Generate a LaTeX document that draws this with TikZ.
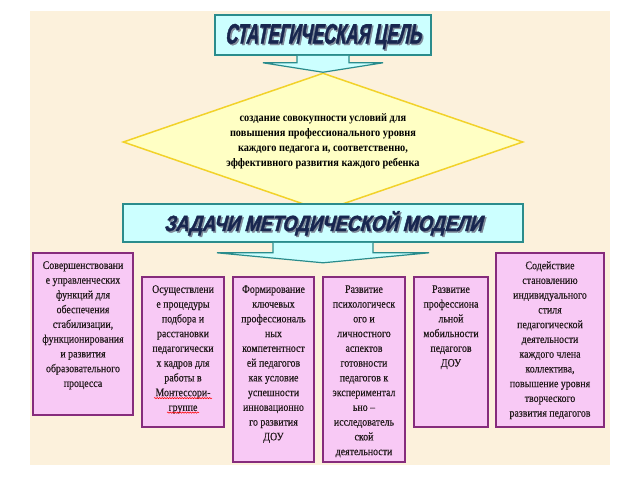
\documentclass[tikz,border=0pt]{standalone}
\usepackage{fontspec}
\usepackage{graphicx}
\setmainfont{Liberation Serif}
\newfontfamily\boxfont[FakeStretch=0.86,FakeBold=0.4]{Liberation Serif}
\newfontfamily\goalfont[FakeStretch=0.9]{Liberation Serif}
\newfontfamily\headfont[FakeStretch=0.62,FakeSlant=0.2,FakeBold=1.5]{Liberation Sans}
\usetikzlibrary{shapes.geometric,decorations.pathmorphing,calc,shadows}
\definecolor{bgcol}{HTML}{FCF1DC}
\definecolor{cyanfill}{HTML}{CCFFFF}
\definecolor{tealline}{HTML}{2A8C8C}
\definecolor{goalfill}{HTML}{FFFFC4}
\definecolor{goalline}{HTML}{F2D22A}
\definecolor{pinkfill}{HTML}{F8C9F5}
\definecolor{purpline}{HTML}{862C7C}
\definecolor{purpshadow}{HTML}{5E1C55}
\definecolor{headtext}{HTML}{18264F}
\definecolor{headshadow}{HTML}{7F8A99}
\definecolor{bodytext}{HTML}{221A1C}
\newcommand{\headline}[3]{\resizebox{#1}{\height}{\headfont\bfseries\fontsize{#2}{#2}\selectfont #3}}
\tikzset{
  headbox/.style={draw=tealline, fill=cyanfill, line width=1.6pt, inner sep=0pt},
  headarrow/.style={draw=tealline, fill=cyanfill, line width=1.2pt, line join=miter},
  goalshape/.style={diamond, draw=goalline, fill=goalfill, line width=1.5pt, inner sep=0pt},
  taskbox/.style={draw=purpline, fill=pinkfill, line width=1.8pt, inner sep=0pt,
    drop shadow={shadow xshift=1.2pt, shadow yshift=-1.2pt, fill=purpshadow, opacity=1}},
  tasktext/.style={anchor=north, align=center, inner sep=0pt, text=bodytext,
    font=\boxfont\fontsize{11.5}{14.75}\selectfont},
  goaltext/.style={align=center, inner sep=0pt, text=black,
    font=\goalfont\bfseries\fontsize{11.5}{15}\selectfont},
  headtxt/.style={anchor=base, inner sep=0pt, text=headtext},
  headshd/.style={anchor=base, inner sep=0pt, text=headshadow},
  squig/.style={draw=red, line width=0.5pt, decorate,
    decoration={snake, amplitude=0.7pt, segment length=2.5pt}}
}
\begin{document}
\begin{tikzpicture}[x=1pt,y=-1pt]
\path[use as bounding box] (0,0) rectangle (640,480);
\fill[white] (0,0) rectangle (640,480);
\fill[bgcol] (30,11) rectangle (610,465);

% goal diamond
\node[goalshape, minimum width=400pt, minimum height=138pt] (goal) at (323,142) {};
\node[goaltext] (goaltx) at (323,141) {создание совокупности условий для\\
повышения профессионального уровня\\
каждого педагога и, соответственно,\\
эффективного развития каждого ребенка};

% title
\node[headbox, minimum width=216pt, minimum height=40pt] (title) at (323,35) {};
\path[headarrow] ($(title.south)+(-26,0)$) -- ($(title.south)+(-26,7)$) -- ($(title.south)+(-60,7)$)
  -- (goal.north) -- ($(title.south)+(60,7)$) -- ($(title.south)+(26,7)$) -- ($(title.south)+(26,0)$);
\node[headshd] (titleshd) at ($(title.center)+(1.5,10)$) {\headline{196pt}{28}{СТАТЕГИЧЕСКАЯ ЦЕЛЬ}};
\node[headtxt] (titletx) at ($(title.center)+(0,8.5)$) {\headline{196pt}{28}{СТАТЕГИЧЕСКАЯ ЦЕЛЬ}};

% tasks header
\node[headbox, minimum width=400pt, minimum height=38pt] (task) at (323,223) {};
\coordinate (tasktip) at ($(task.south)+(0,20)$);
\path[headarrow] ($(task.south)+(-50,0)$) -- ($(task.south)+(-50,10)$) -- ($(task.south)+(-106,10)$)
  -- (tasktip) -- ($(task.south)+(106,10)$) -- ($(task.south)+(50,10)$) -- ($(task.south)+(50,0)$);
\node[headshd] (taskshd) at ($(task.center)+(1.5,9.5)$) {\headline{318pt}{22}{ЗАДАЧИ МЕТОДИЧЕСКОЙ МОДЕЛИ}};
\node[headtxt] (tasktx) at ($(task.center)+(0,8)$) {\headline{318pt}{22}{ЗАДАЧИ МЕТОДИЧЕСКОЙ МОДЕЛИ}};

% task boxes
\node[taskbox, minimum width=100pt, minimum height=162pt] (b1) at (83,334) {};
\node[taskbox, minimum width=82pt, minimum height=150pt] (b2) at (183,352) {};
\node[taskbox, minimum width=81pt, minimum height=185pt] (b3) at (273.5,369.5) {};
\node[taskbox, minimum width=82pt, minimum height=185pt] (b4) at (364,369.5) {};
\node[taskbox, minimum width=74pt, minimum height=150pt] (b5) at (451,352) {};
\node[taskbox, minimum width=108pt, minimum height=174pt] (b6) at (550,340) {};

\node[tasktext] (t1) at ($(b1.north)+(0,9)$) {Совершенствовани\\е управленческих\\функций для\\обеспечения\\стабилизации,\\функционирования\\и развития\\образовательного\\процесса};
\node[tasktext] (t2) at ($(b2.north)+(0,9)$) {Осуществлени\\е процедуры\\подбора и\\расстановки\\педагогически\\х кадров для\\работы в\\Монтессори-\\группе};
\node[tasktext] (t3) at ($(b3.north)+(0,9)$) {Формирование\\ключевых\\профессиональ\\ных\\компетентност\\ей педагогов\\как условие\\успешности\\инновационно\\го развития\\ДОУ};
\node[tasktext] (t4) at ($(b4.north)+(0,9)$) {Развитие\\психологическ\\ого и\\личностного\\аспектов\\готовности\\педагогов к\\экспериментал\\ьно –\\исследователь\\ской\\деятельности};
\node[tasktext] (t5) at ($(b5.north)+(0,9)$) {Развитие\\профессиона\\льной\\мобильности\\педагогов\\ДОУ};
\node[tasktext] (t6) at ($(b6.north)+(0,9)$) {Содействие\\становлению\\индивидуального\\стиля\\педагогической\\деятельности\\каждого члена\\коллектива,\\повышение уровня\\творческого\\развития педагогов};

% spell-check underlines
\draw[squig] ($(b2.north)+(-29,122)$) -- ($(b2.north)+(29,122)$);
\draw[squig] ($(b2.north)+(-16,136.5)$) -- ($(b2.north)+(16,136.5)$);
\end{tikzpicture}
\end{document}
